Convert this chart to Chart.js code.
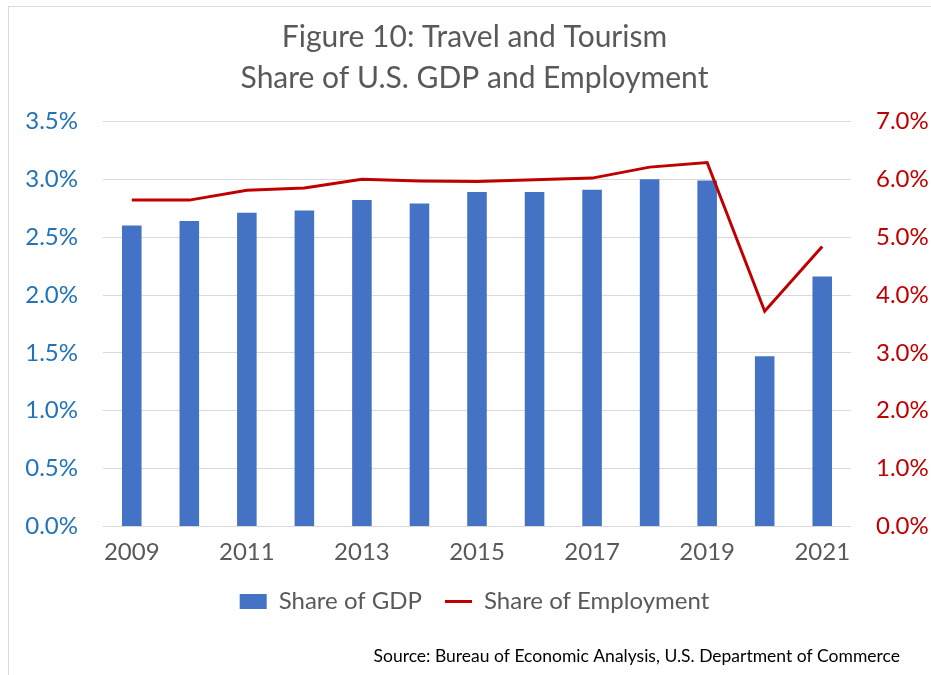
<!DOCTYPE html>
<html>
<head>
<meta charset="utf-8">
<title>Figure 10: Travel and Tourism</title>
<script src="https://cdn.jsdelivr.net/npm/chart.js@4/dist/chart.umd.min.js"></script>
<style>
  html, body { margin: 0; padding: 0; background: #fff; overflow: hidden; }
  #frame { position: absolute; left: 8px; top: 6px; width: 1000px; height: 1000px; border: 1px solid #d9d9d9; }
  #wrap { position: absolute; left: 0; top: 0; width: 931px; height: 675px; }
</style>
</head>
<body>
<div id="frame"></div>
<div id="wrap"><canvas id="chart" width="931" height="675"></canvas></div>
<script>
// Travel and tourism share of U.S. GDP (left axis) and employment (right axis), percent
const years = ["2009", "2010", "2011", "2012", "2013", "2014", "2015",
               "2016", "2017", "2018", "2019", "2020", "2021"];
const gdpShare = [2.60, 2.64, 2.71, 2.73, 2.82, 2.79, 2.89, 2.89, 2.91, 3.00, 2.99, 1.47, 2.16];
const employmentShare = [5.64, 5.64, 5.81, 5.85, 6.00, 5.97, 5.96, 5.99, 6.02, 6.21, 6.29, 3.72, 4.84];
const titleLines = ["Figure 10: Travel and Tourism", "Share of U.S. GDP and Employment"];
const sourceNote = "Source: Bureau of Economic Analysis, U.S. Department of Commerce";

const FONT = "Lato, 'Open Sans', sans-serif";

// source line sits under the legend, right aligned
const sourcePlugin = {
  id: "sourceNote",
  afterDraw(chart) {
    const ctx = chart.ctx;
    ctx.save();
    ctx.font = "17.5px " + FONT;
    ctx.fillStyle = "#000";
    ctx.textAlign = "right";
    ctx.textBaseline = "middle";
    ctx.fillText(sourceNote, 900, 656);
    ctx.restore();
  },
};

new Chart(document.getElementById("chart"), {
  type: "bar",
  data: {
    labels: years,
    datasets: [
      {
        label: "Share of GDP",
        data: gdpShare,
        backgroundColor: "#4472C4",
        borderWidth: 0,
        barPercentage: 0.34,
        categoryPercentage: 1.0,
        yAxisID: "y",
        order: 1,
        pointStyle: "rect",
      },
      {
        type: "line",
        label: "Share of Employment",
        data: employmentShare,
        borderColor: "#C00000",
        backgroundColor: "#C00000",
        borderWidth: 3,
        pointRadius: 0,
        tension: 0,
        yAxisID: "y1",
        order: 0,
        pointStyle: "line",
      },
    ],
  },
  options: {
    responsive: false,
    animation: false,
    layout: { padding: { left: 18, right: 0, top: 0, bottom: 51.5 } },
    scales: {
      x: {
        grid: { display: false, drawTicks: false },
        border: { display: false },
        ticks: {
          autoSkip: false,
          maxRotation: 0,
          padding: 11,
          color: "#595959",
          font: { family: FONT, size: 24 },
          callback: (v, i) => (i % 2 === 0 ? years[i] : ""),
        },
        // tighter than the default 2x padding, keeps the legend close
        afterFit: (s) => { s.height = 40; },
      },
      y: {
        position: "left",
        min: 0,
        max: 3.5,
        ticks: {
          stepSize: 0.5,
          padding: 25,
          color: "#2273B8",
          font: { family: FONT, size: 24 },
          callback: (v) => v.toFixed(1) + "%",
        },
        grid: { color: "#d9d9d9", lineWidth: 1, drawTicks: false },
        border: { display: false },
        afterFit: (s) => { s.width = 85; },
      },
      y1: {
        position: "right",
        min: 0,
        max: 7,
        ticks: {
          stepSize: 1,
          padding: 25,
          color: "#C00000",
          font: { family: FONT, size: 24 },
          callback: (v) => v.toFixed(1) + "%",
        },
        grid: { display: false, drawTicks: false },
        border: { display: false },
        afterFit: (s) => { s.width = 80; },
      },
    },
    plugins: {
      title: {
        display: true,
        text: titleLines,
        color: "#595959",
        font: { family: FONT, size: 30, weight: "normal", lineHeight: 1.39 },
        padding: { top: 16, bottom: 22 },
      },
      legend: {
        position: "bottom",
        labels: {
          usePointStyle: true,
          pointStyleWidth: 27,
          boxHeight: 15,
          padding: 23,
          color: "#595959",
          font: { family: FONT, size: 24 },
          sort: (a, b) => a.datasetIndex - b.datasetIndex,
        },
      },
      tooltip: { enabled: false },
    },
  },
  plugins: [sourcePlugin],
});
</script>
</body>
</html>
